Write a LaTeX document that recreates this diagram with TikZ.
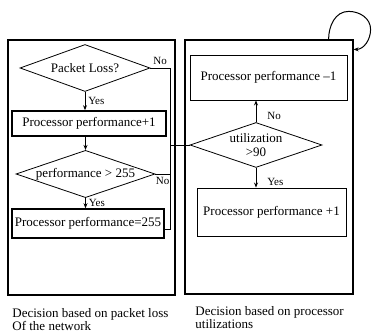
\documentclass[tikz,border=0pt]{standalone}
\usepackage{fontspec}
\setmainfont{Liberation Serif}
\usetikzlibrary{shapes.geometric,arrows.meta}

\begin{document}
\begin{tikzpicture}[x=1pt,y=1pt,>={Stealth[length=5pt,width=4pt]},line width=0.8pt,
  font=\fontsize{13}{14}\selectfont,
  frame/.style={draw,line width=1.2pt,inner sep=0pt},
  box/.style={draw,line width=1.6pt,inner sep=0pt},
  thinbox/.style={draw,line width=0.9pt,inner sep=0pt},
  test/.style={draw,diamond,aspect=2.8,inner sep=0pt},
  lbl/.style={font=\fontsize{11}{12}\selectfont,inner sep=3pt},
  caption/.style={anchor=north west,align=left,inner sep=0pt,font=\fontsize{13}{13}\selectfont}]
\useasboundingbox (0,0) rectangle (372,334);
% the two decision blocks
\node[frame,minimum width=167,minimum height=255] (lframe) at (91.5,166.5) {};
\node[frame,minimum width=168,minimum height=254] (rframe) at (269,167) {};
% packet loss side
\node[test,minimum width=130,minimum height=47] (pl) at (85,266) {Packet Loss?};
\node[box,minimum width=154,minimum height=25] (pp1) at (89,210.5) {Processor performance+1};
\node[test,minimum width=139,minimum height=46] (pg) at (85.5,160) {performance > 255};
\node[box,minimum width=152,minimum height=29] (pp255) at (88,110.5) {Processor performance=255};
% utilization side
\node[thinbox,minimum width=157,minimum height=45] (ppdec) at (268.5,256.5) {Processor performance --1};
\node[test,align=center,minimum width=132,minimum height=45] (util) at (256,189) {utilization\\>90};
\node[thinbox,minimum width=149,minimum height=48] (ppinc) at (271.5,122) {Processor performance +1};
\node[caption] (lcap) at (12,26) {Decision based on packet loss\\Of the network};
\node[caption] (rcap) at (195,28) {Decision based on processor\\utilizations};
\coordinate (nx) at (170,0);
\coordinate (loopa) at ([xshift=-25pt]rframe.north east);
\coordinate (loopb) at ([yshift=-10pt]rframe.north east);

\draw[->] (pl.south) -- node[lbl,right] {Yes} (pl.south |- pp1.north);
\draw[->] (pg.north |- pp1.south) -- (pg.north);
\draw[->] (pg.south) -- node[lbl,right] {Yes} (pg.south |- pp255.north);
\draw (pl.east) -- node[lbl,above] {No} (pl.east -| nx) -- ([yshift=-6pt]pp255.east -| nx) -- ([yshift=-6pt]pp255.east);
\draw (pg.east) -- node[lbl,below] {No} (pg.east -| nx);
\draw (util.west -| nx) -- (util.west);
\draw[->] (util.north) -- node[lbl,right=8pt,pos=0.3] {No} (util.north |- ppdec.south);
\draw[->] (util.south) -- node[lbl,right=8pt,pos=0.7] {Yes} (util.south |- ppinc.north);
\draw[->,line width=1pt] (loopa) to[out=90,in=180] ++(20,28) to[out=0,in=90] ++(22,-18) to[out=-90,in=0] (loopb);
\end{tikzpicture}
\end{document}
